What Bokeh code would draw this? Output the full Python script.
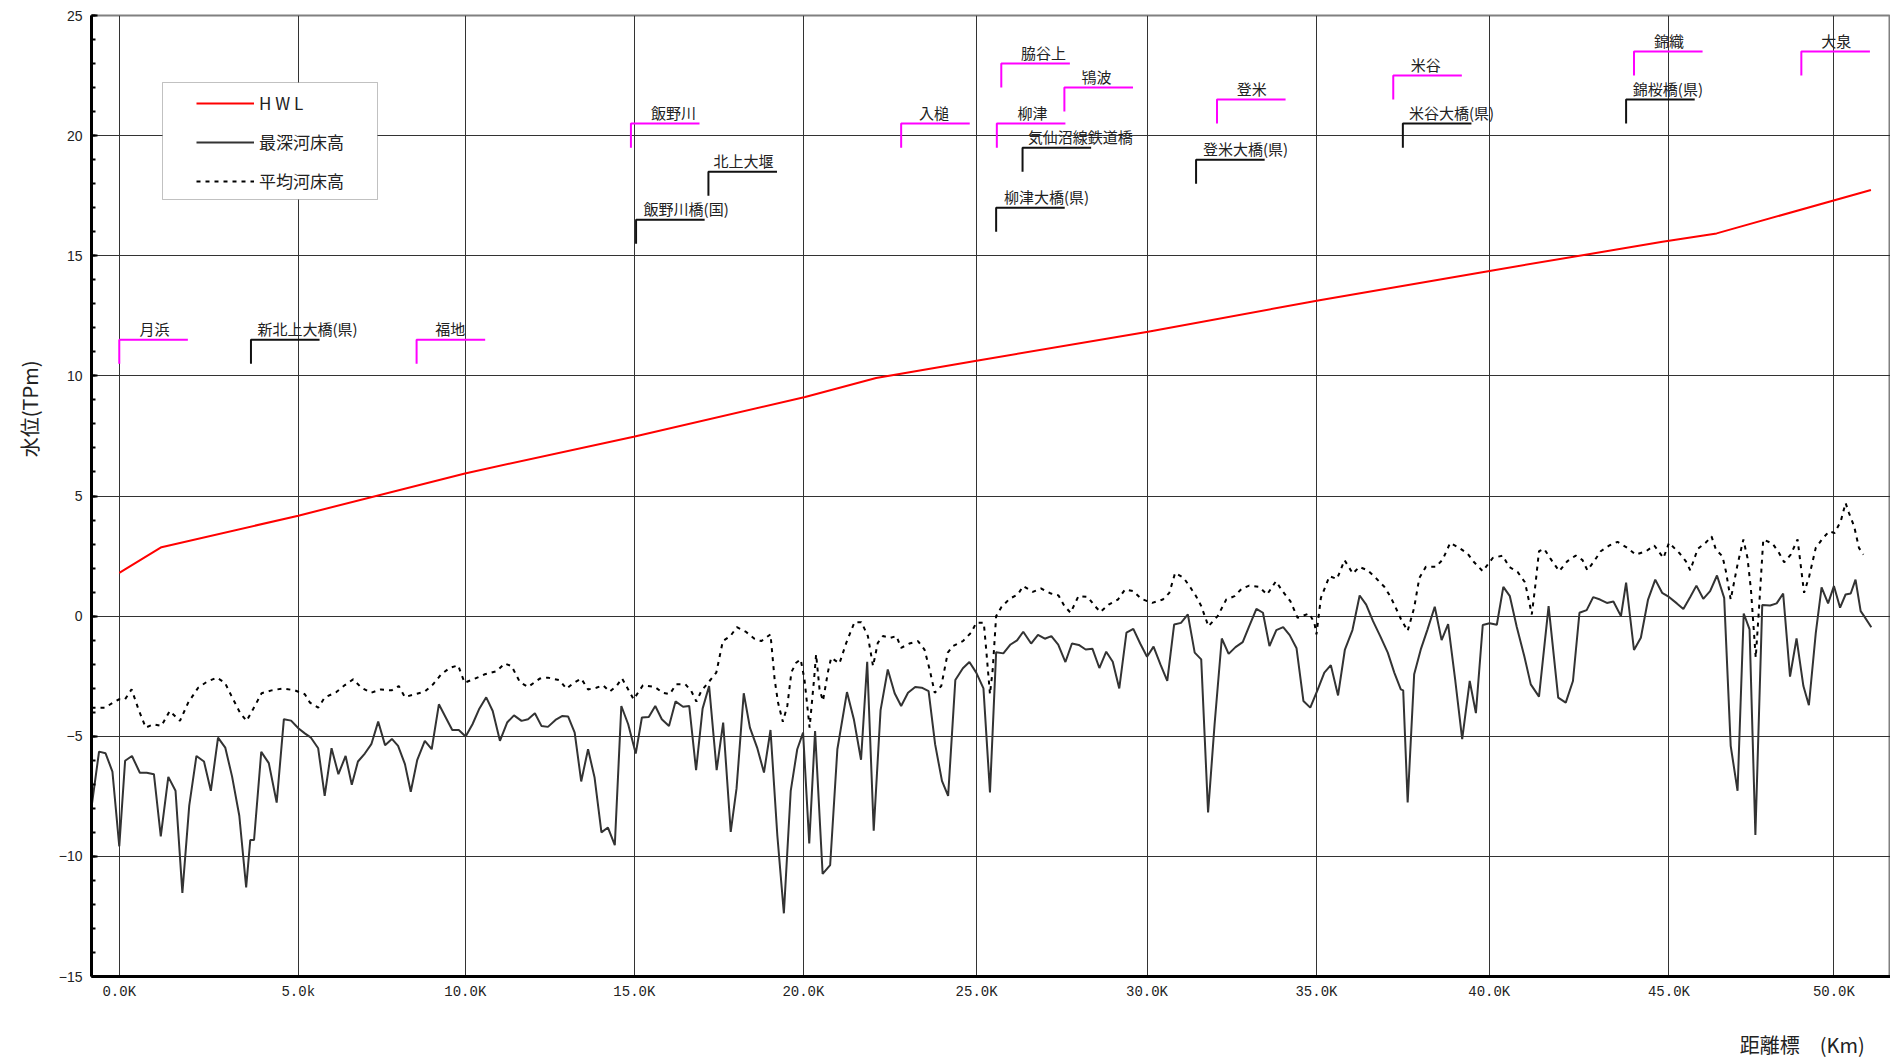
from bokeh.plotting import figure
from bokeh.layouts import column
from bokeh.models import Range1d, FixedTicker, BoxAnnotation, Legend, LegendItem, Title
from bokeh.core.properties import value
from bokeh.embed import file_html
from bokeh.resources import INLINE

# ---------------- data ----------------
# x tick marks (distance markers) and their labels
xtick_pos = [0.0, 5.22, 10.09, 15.02, 19.95, 25.0, 29.97, 34.91, 39.95, 45.19, 50.0]
xtick_labels = ["0.0K", "5.0k", "10.0K", "15.0K", "20.0K", "25.0K", "30.0K",
                "35.0K", "40.0K", "45.0K", "50.0K"]
ytick_pos = [-15, -10, -5, 0, 5, 10, 15, 20, 25]

# HWL
hwl_km = [0.0, 1.23, 5.22, 10.08, 15.0, 20.0, 22.07, 25.0, 30.0, 35.0, 40.0, 45.0, 46.58, 51.08]
hwl_el = [1.80, 2.87, 4.18, 5.94, 7.47, 9.12, 9.91, 10.63, 11.84, 13.15, 14.38, 15.58, 15.93, 17.74]

# 最深河床高 (deepest bed)
deep_km = [-0.81, -0.59, -0.40, -0.20, 0.00, 0.17, 0.37, 0.60, 0.80, 1.01, 1.21, 1.43, 1.64, 1.84,
           2.04, 2.25, 2.47, 2.67, 2.88, 3.09, 3.29, 3.50, 3.70, 3.82, 3.93, 4.14, 4.36, 4.59,
           4.80, 5.01, 5.23, 5.41, 5.59, 5.80, 5.99, 6.19, 6.39, 6.60, 6.78, 6.96, 7.16, 7.35,
           7.55, 7.75, 7.95, 8.13, 8.33, 8.50, 8.69, 8.91, 9.11, 9.32, 9.52, 9.71, 9.90, 10.10,
           10.30, 10.49, 10.70, 10.89, 11.10, 11.31, 11.51, 11.73, 11.92, 12.12, 12.31, 12.50,
           12.72, 12.91, 13.09, 13.28, 13.47, 13.67, 13.86, 14.06, 14.25, 14.45, 14.64, 14.84,
           15.06, 15.24, 15.44, 15.63, 15.82, 16.03, 16.22, 16.44, 16.62, 16.82, 17.01, 17.20,
           17.42, 17.61, 17.83, 18.00, 18.21, 18.39, 18.60, 18.80, 18.99, 19.19, 19.38, 19.58,
           19.77, 19.94, 20.12, 20.29, 20.51, 20.73, 20.94, 21.22, 21.42, 21.63, 21.81, 22.00,
           22.20, 22.41, 22.61, 22.80, 23.00, 23.21, 23.40, 23.60, 23.79, 23.99, 24.17, 24.38,
           24.60, 24.79, 24.99, 25.20, 25.39, 25.57, 25.78, 25.99, 26.18, 26.36, 26.59, 26.79,
           26.99, 27.18, 27.38, 27.59, 27.78, 27.98, 28.18, 28.38, 28.58, 28.78, 28.97, 29.16,
           29.37, 29.57, 29.77, 29.97, 30.16, 30.36, 30.56, 30.76, 30.96, 31.16, 31.36, 31.55,
           31.75, 31.94, 32.15, 32.35, 32.55, 32.76, 32.95, 33.16, 33.35, 33.54, 33.74, 33.94,
           34.13, 34.33, 34.53, 34.73, 34.95, 35.14, 35.33, 35.54, 35.74, 35.96, 36.17, 36.36,
           36.56, 36.77, 36.99, 37.18, 37.37, 37.44, 37.57, 37.76, 37.96, 38.15, 38.36, 38.56,
           38.75, 38.96, 39.16, 39.38, 39.56, 39.76, 39.96, 40.17, 40.36, 40.55, 40.75, 40.97,
           41.16, 41.40, 41.68, 41.96, 42.18, 42.39, 42.58, 42.79, 42.98, 43.18, 43.38, 43.57,
           43.79, 43.94, 44.17, 44.37, 44.58, 44.79, 44.99, 45.19, 45.42, 45.61, 45.81, 45.99,
           46.19, 46.39, 46.59, 46.80, 46.99, 47.19, 47.37, 47.54, 47.71, 47.91, 48.14, 48.33,
           48.52, 48.72, 48.91, 49.11, 49.27, 49.47, 49.64, 49.83, 50.00, 50.18, 50.34, 50.49,
           50.63, 50.78, 50.88, 51.09]
deep_el = [-7.96, -5.64, -5.71, -6.47, -9.58, -6.02, -5.82, -6.52, -6.52, -6.58, -9.17, -6.69, -7.27, -11.52,
           -7.89, -5.82, -6.05, -7.27, -5.06, -5.47, -6.68, -8.31, -11.29, -9.32, -9.32, -5.65, -6.12, -7.76,
           -4.29, -4.35, -4.68, -4.88, -5.06, -5.50, -7.48, -5.50, -6.58, -5.82, -7.02, -6.05, -5.72, -5.33,
           -4.39, -5.37, -5.11, -5.40, -6.16, -7.31, -5.98, -5.19, -5.54, -3.67, -4.22, -4.74, -4.74, -5.01,
           -4.50, -3.88, -3.38, -3.95, -5.19, -4.43, -4.13, -4.36, -4.29, -4.04, -4.57, -4.61,
           -4.32, -4.16, -4.18, -4.85, -6.88, -5.54, -6.72, -9.00, -8.80, -9.53, -3.74, -4.50,
           -5.72, -4.22, -4.20, -3.74, -4.29, -4.57, -3.55, -3.77, -3.74, -6.41, -3.85, -2.91,
           -6.41, -4.43, -8.98, -7.17, -3.21, -4.64, -5.47, -6.51, -4.74, -9.14, -12.37, -7.27,
           -5.54, -4.85, -9.46, -4.78, -10.73, -10.36, -5.54, -3.16, -4.29, -5.98, -1.90, -8.93,
           -3.91, -2.22, -3.21, -3.74, -3.19, -2.95, -2.98, -3.12, -5.33, -6.86, -7.48, -2.66,
           -2.17, -1.91, -2.35, -3.01, -7.34, -1.50, -1.55, -1.18, -1.01, -0.65, -1.14, -0.78,
           -0.94, -0.83, -1.19, -1.91, -1.14, -1.20, -1.39, -1.36, -2.16, -1.48, -1.90, -3.01,
           -0.69, -0.53, -1.14, -1.69, -1.27, -2.01, -2.70, -0.35, -0.28, 0.07, -1.52, -1.80,
           -8.17, -4.50, -0.93, -1.57, -1.29, -1.08, -0.42, 0.30, 0.14, -1.25, -0.58, -0.46,
           -0.79, -1.34, -3.53, -3.81, -3.05, -2.35, -2.04, -3.30, -1.39, -0.58, 0.86, 0.48,
           -0.21, -0.83, -1.52, -2.35, -3.05, -3.09, -7.76, -2.42, -1.35, -0.55, 0.39, -1.00,
           -0.33, -2.70, -5.12, -2.70, -4.04, -0.37, -0.30, -0.36, 1.22, 0.83, -0.44, -1.66,
           -2.84, -3.35, 0.42, -3.39, -3.60, -2.70, 0.14, 0.25, 0.79, 0.69, 0.55, 0.61,
           0.00, 1.39, -1.41, -0.90, 0.69, 1.52, 0.97, 0.80, 0.53, 0.30, 0.80, 1.27,
           0.72, 1.04, 1.69, 0.76, -5.40, -7.27, 0.11, -0.55, -9.11, 0.46, 0.44, 0.53,
           0.94, -2.52, -0.93, -2.91, -3.71, -0.72, 1.20, 0.53, 1.25, 0.35, 0.90, 0.94,
           1.52, 0.21, 0.00, -0.46]

# 平均河床高 (mean bed)
mean_km = [-0.81, -0.42, -0.18, 0.00, 0.17, 0.36, 0.56, 0.77, 1.00, 1.23, 1.47, 1.77, 2.01, 2.30,
           2.55, 2.84, 3.08, 3.27, 3.52, 3.71, 3.90, 4.15, 4.44, 4.78, 5.12, 5.41, 5.56, 5.80,
           5.99, 6.33, 6.58, 6.82, 7.06, 7.34, 7.63, 7.94, 8.15, 8.33, 8.62, 8.91, 9.15, 9.39,
           9.64, 9.88, 10.07, 10.37, 10.66, 11.00, 11.24, 11.44, 11.68, 11.92, 12.26, 12.50,
           12.84, 13.04, 13.23, 13.47, 13.67, 13.91, 14.11, 14.30, 14.50, 14.66, 14.84, 15.00,
           15.27, 15.61, 15.85, 16.05, 16.24, 16.51, 16.68, 16.83, 16.97, 17.19, 17.41, 17.60,
           17.82, 18.01, 18.28, 18.52, 18.72, 18.99, 19.11, 19.21, 19.35, 19.48, 19.60, 19.74,
           19.87, 19.98, 20.13, 20.26, 20.32, 20.42, 20.52, 20.67, 20.76, 21.00, 21.20, 21.44,
           21.64, 21.83, 21.98, 22.12, 22.27, 22.49, 22.66, 22.80, 23.04, 23.29, 23.48, 23.63,
           23.78, 23.97, 24.16, 24.31, 24.60, 24.84, 24.99, 25.21, 25.28, 25.39, 25.47, 25.57,
           25.72, 25.96, 26.20, 26.36, 26.64, 26.88, 27.17, 27.39, 27.56, 27.74, 27.97, 28.24,
           28.45, 28.61, 28.85, 29.12, 29.33, 29.57, 29.80, 30.12, 30.43, 30.62, 30.79, 31.04,
           31.24, 31.40, 31.55, 31.76, 32.03, 32.28, 32.52, 32.73, 32.95, 33.24, 33.47, 33.73,
           33.92, 34.15, 34.36, 34.70, 34.85, 34.91, 35.04, 35.29, 35.51, 35.73, 35.97, 36.16,
           36.40, 36.64, 36.89, 37.06, 37.20, 37.37, 37.57, 37.76, 37.91, 38.10, 38.39, 38.59,
           38.81, 39.07, 39.32, 39.51, 39.76, 40.05, 40.34, 40.53, 40.78, 40.99, 41.12, 41.19,
           41.28, 41.40, 41.55, 41.74, 41.99, 42.23, 42.47, 42.67, 42.81, 43.01, 43.20, 43.45,
           43.69, 43.98, 44.22, 44.52, 44.76, 45.03, 45.19, 45.49, 45.68, 45.81, 46.03, 46.27,
           46.43, 46.56, 46.75, 46.85, 46.99, 47.19, 47.36, 47.48, 47.58, 47.72, 47.82, 47.94,
           48.21, 48.40, 48.55, 48.74, 48.94, 49.13, 49.28, 49.47, 49.66, 49.86, 50.02, 50.20,
           50.34, 50.44, 50.59, 50.73, 50.86]
mean_el = [-3.81, -3.81, -3.60, -3.46, -3.46, -3.05, -3.88, -4.64, -4.50, -4.57, -3.95, -4.36, -3.60, -2.98,
           -2.74, -2.56, -2.77, -3.32, -4.02, -4.36, -3.88, -3.21, -3.09, -3.01, -3.09, -3.25, -3.60, -3.81,
           -3.39, -3.16, -2.87, -2.63, -2.98, -3.19, -3.05, -3.09, -2.91, -3.37, -3.25, -3.14, -2.84, -2.42,
           -2.15, -2.05, -2.77, -2.60, -2.42, -2.29, -1.97, -2.08, -2.74, -2.95, -2.60, -2.56,
           -2.67, -3.02, -2.80, -2.60, -3.05, -2.98, -2.88, -3.14, -2.91, -2.59, -3.05, -3.46,
           -2.88, -2.94, -3.19, -3.25, -2.84, -2.84, -3.12, -3.56, -3.12, -2.74, -2.35, -1.04,
           -0.83, -0.46, -0.66, -0.94, -1.04, -0.76, -2.63, -3.60, -4.40, -3.74, -2.33, -1.94,
           -1.80, -2.63, -4.64, -2.63, -1.59, -3.05, -3.53, -2.29, -1.73, -1.97, -1.11, -0.25,
           -0.25, -0.83, -2.08, -1.11, -0.83, -0.90, -0.83, -1.32, -1.14, -1.04, -1.39, -2.22,
           -3.19, -2.91, -1.52, -1.25, -1.04, -0.69, -0.28, -0.28, -1.39, -3.25, -2.22, 0.00,
           0.37, 0.72, 0.90, 1.25, 1.01, 1.15, 0.94, 0.86, 0.42, 0.14, 0.83, 0.80,
           0.42, 0.17, 0.48, 0.69, 1.11, 1.04, 0.72, 0.55, 0.69, 0.97, 1.80, 1.59,
           1.18, 0.83, 0.42, -0.42, 0.00, 0.69, 0.83, 1.14, 1.27, 1.22, 0.90, 1.45,
           1.04, 0.62, -0.07, 0.11, -0.28, -0.76, 0.76, 1.66, 1.55, 2.33, 1.77, 2.05,
           1.91, 1.59, 1.22, 0.83, 0.42, -0.11, -0.62, 0.35, 1.59, 2.05, 2.05, 2.35,
           3.05, 2.84, 2.60, 2.24, 1.87, 2.42, 2.52, 2.05, 1.83, 1.41, 0.55, 0.07,
           1.11, 2.70, 2.80, 2.38, 1.87, 2.29, 2.52, 2.33, 1.91, 2.29, 2.70, 2.94,
           3.09, 2.84, 2.56, 2.70, 2.94, 2.42, 3.05, 2.63, 2.29, 1.91, 2.80, 3.07,
           3.32, 2.77, 2.49, 1.87, 0.69, 2.15, 3.19, 2.42, 1.11, -1.73, 0.42, 3.19,
           3.02, 2.63, 2.24, 2.56, 3.19, 0.97, 1.66, 2.84, 3.21, 3.53, 3.46, 3.95,
           4.71, 4.29, 3.74, 2.84, 2.56]

# gauging stations (magenta brackets)
st_names = ["月浜", "福地", "飯野川", "入槌", "柳津", "脇谷上", "鴇波", "登米", "米谷", "錦織", "大泉"]
st_km = [0.00, 8.67, 14.92, 22.80, 25.59, 25.72, 27.56, 32.01, 37.15, 44.17, 49.05]
st_top = [11.5, 11.5, 20.5, 20.5, 20.5, 23.0, 22.0, 21.5, 22.5, 23.5, 23.5]
st_label_km = [1.03, 9.65, 16.16, 23.76, 26.63, 26.95, 28.50, 33.02, 38.10, 45.19, 50.07]

# bridges / structures (black brackets)
br_names = ["新北上大橋(県)", "飯野川橋(国)", "北上大堰", "柳津大橋(県)", "気仙沼線鉄道橋",
            "登米大橋(県)", "米谷大橋(県)", "錦桜橋(県)"]
br_km = [3.84, 15.07, 17.18, 25.57, 26.34, 31.40, 37.43, 43.94]
br_top = [11.5, 16.5, 18.5, 17.0, 19.5, 19.0, 20.5, 21.5]
br_label_km = [5.49, 16.53, 18.20, 27.04, 28.02, 32.84, 38.85, 45.16]

x_title = "距離標　(Km)"
y_title = "水位(TPm)"

# ---------------- styling constants ----------------
JP = "Noto Sans CJK JP"
BRACKET_W = 2.0   # km
BRACKET_H = 1.0   # m
W = 1890

p = figure(width=W, height=1014,
           x_range=Range1d(-0.81, 51.65), y_range=Range1d(-15, 25),
           output_backend="svg", toolbar_location=None,
           min_border_left=90, min_border_right=0, min_border_top=15, min_border_bottom=38)

p.background_fill_color = "white"
p.border_fill_color = "white"
p.outline_line_color = "#808080"
p.outline_line_width = 2

# axes
p.xaxis.ticker = FixedTicker(ticks=xtick_pos)
p.xaxis.major_label_overrides = {t: l for t, l in zip(xtick_pos, xtick_labels)}
p.xaxis.major_tick_in = 0
p.xaxis.major_tick_out = 0
p.xaxis.minor_tick_in = 0
p.xaxis.minor_tick_out = 0
p.xaxis.axis_line_width = 3
p.xaxis.axis_line_color = "black"
p.xaxis.major_label_text_font = "Liberation Mono"
p.xaxis.major_label_text_font_size = "14px"
p.xaxis.major_label_text_color = "#222222"
p.xaxis.major_label_standoff = 7

p.yaxis.ticker = FixedTicker(ticks=ytick_pos, minor_ticks=list(range(-15, 26)))
p.yaxis.major_tick_in = 6
p.yaxis.major_tick_out = 0
p.yaxis.minor_tick_in = 4
p.yaxis.minor_tick_out = 0
p.yaxis.major_tick_line_width = 2
p.yaxis.minor_tick_line_width = 2
p.yaxis.axis_line_width = 3
p.yaxis.axis_line_color = "black"
p.yaxis.major_label_text_font = "Liberation Sans"
p.yaxis.major_label_text_font_size = "14px"
p.yaxis.major_label_text_color = "#222222"
p.yaxis.major_label_standoff = 9

p.xgrid.grid_line_color = "#333333"
p.xgrid.grid_line_width = 1
p.ygrid.grid_line_color = "#333333"
p.ygrid.grid_line_width = 1

# series
r_hwl = p.line(hwl_km, hwl_el, line_color="#ff0000", line_width=2)
r_deep = p.line(deep_km, deep_el, line_color="#333333", line_width=2)
r_mean = p.line(mean_km, mean_el, line_color="#000000", line_width=2, line_dash="4 5")

# brackets
p.multi_line([[k, k, k + BRACKET_W] for k in st_km],
             [[t - BRACKET_H, t, t] for t in st_top],
             line_color="#ff00ff", line_width=2)
p.multi_line([[k, k, k + BRACKET_W] for k in br_km],
             [[t - BRACKET_H, t, t] for t in br_top],
             line_color="#111111", line_width=2)

p.text(x=st_label_km, y=st_top, text=st_names, text_font=value(JP), text_font_size="15px",
       text_align="center", text_baseline="middle", y_offset=-11, text_color="#222222")
p.text(x=br_label_km, y=br_top, text=br_names, text_font=value(JP), text_font_size="15px",
       text_align="center", text_baseline="middle", y_offset=-11, text_color="#222222")

# legend frame + legend
box = BoxAnnotation(left=71, right=286, top=894, bottom=777,
                    left_units="screen", right_units="screen",
                    top_units="screen", bottom_units="screen",
                    fill_color="white", fill_alpha=1.0,
                    line_color="#333333", line_width=1, level="annotation")
p.add_layout(box)

legend = Legend(items=[LegendItem(label="H W L", renderers=[r_hwl]),
                       LegendItem(label="最深河床高", renderers=[r_deep]),
                       LegendItem(label="平均河床高", renderers=[r_mean])],
                location=(105, 783), padding=0, spacing=14,
                glyph_width=58, glyph_height=20, label_height=20, label_standoff=5,
                border_line_alpha=0, background_fill_alpha=0,
                label_text_font=JP, label_text_font_size="17px", label_text_color="#222222")
p.add_layout(legend)

# y axis title
p.add_layout(Title(text=y_title, align="right", offset=345, standoff=24,
                   text_font=JP, text_font_size="20px", text_font_style="normal",
                   text_color="#222222"), "left")

# x axis title, in a thin strip below the chart (pixel coordinates of the strip)
STRIP_H = 46
strip = figure(width=W, height=STRIP_H, x_axis_type=None, y_axis_type=None,
               x_range=Range1d(0, W), y_range=Range1d(0, STRIP_H),
               output_backend="svg", toolbar_location=None,
               min_border_left=0, min_border_right=0, min_border_top=0, min_border_bottom=0)
strip.grid.visible = False
strip.outline_line_color = None
strip.background_fill_color = "white"
strip.border_fill_color = "white"
strip.text(x=[W - 27], y=[16], text=[x_title], text_align="right", text_baseline="middle",
           text_font=value(JP), text_font_size="20px", text_color="#222222")

open("out.html", "w").write(file_html(column(p, strip, spacing=0), INLINE))
